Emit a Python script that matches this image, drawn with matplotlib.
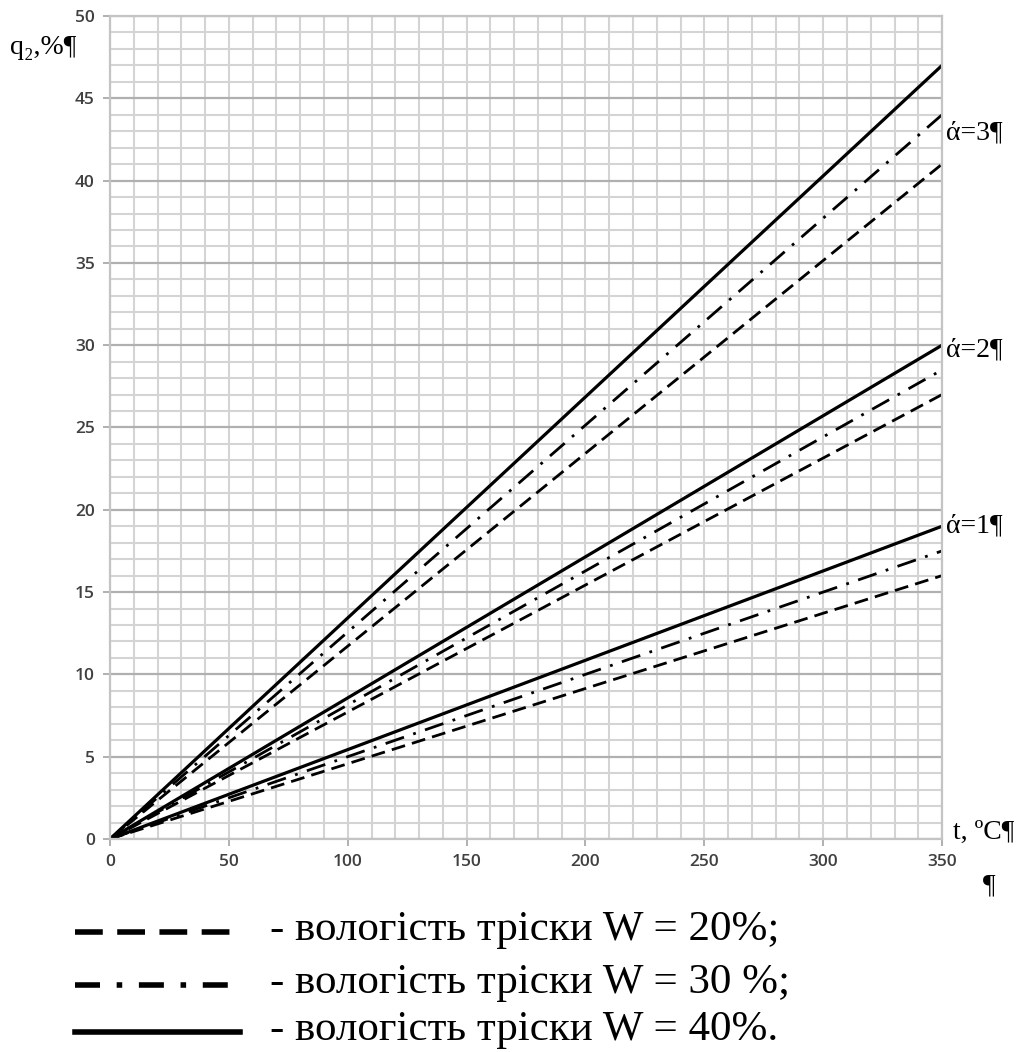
import matplotlib
matplotlib.use("Agg")
import matplotlib.pyplot as plt
from matplotlib.lines import Line2D
from matplotlib.ticker import MultipleLocator

# temperature range of the lines, °C
t = [0, 350]

# q2, % at t = 0 and t = 350 for each excess-air ratio and moisture content
q_a1_w20 = [0, 16.0]
q_a1_w30 = [0, 17.5]
q_a1_w40 = [0, 19.0]
q_a2_w20 = [0, 27.0]
q_a2_w30 = [0, 28.5]
q_a2_w40 = [0, 30.0]
q_a3_w20 = [0, 41.0]
q_a3_w30 = [0, 44.0]
q_a3_w40 = [0, 47.0]

alpha_labels = ["ά=1¶", "ά=2¶", "ά=3¶"]
alpha_label_y = [19.0, 29.7, 42.9]
legend_labels = ["- вологість тріски W = 20%;",
                 "- вологість тріски W = 30 %;",
                 "- вологість тріски W = 40%."]

serif = ["Liberation Serif", "DejaVu Serif"]
tick_font = "Open Sans"

dash = (0, (5, 2.6))
dashdot = (0, (7, 3.5, 1, 3.5))

fig = plt.figure(figsize=(10.29, 10.52), dpi=100)
ax = fig.add_axes([0.1069, 0.2025, 0.8086, 0.7823])

ax.set_xlim(0, 350)
ax.set_ylim(0, 50)
ax.xaxis.set_major_locator(MultipleLocator(50))
ax.xaxis.set_minor_locator(MultipleLocator(10))
ax.yaxis.set_major_locator(MultipleLocator(5))
ax.yaxis.set_minor_locator(MultipleLocator(1))
ax.grid(True, which="minor", color="#d4d4d4", linewidth=1.5)
ax.grid(True, which="major", axis="x", color="#d4d4d4", linewidth=1.5)
ax.grid(True, which="major", axis="y", color="#b0b0b0", linewidth=1.6)
ax.set_axisbelow(True)
for s in ax.spines.values():
    s.set_color("#c4c4c4")
    s.set_linewidth(1.6)

ax.tick_params(which="major", length=5, color="#b0b0b0", width=1.4,
               labelsize=12.5, labelcolor="#404040", pad=6)
ax.tick_params(which="minor", length=0)
for lab in ax.get_xticklabels() + ax.get_yticklabels():
    lab.set_fontfamily(tick_font)
    lab.set_fontweight("semibold")

groups = [(q_a1_w20, q_a1_w30, q_a1_w40),
          (q_a2_w20, q_a2_w30, q_a2_w40),
          (q_a3_w20, q_a3_w30, q_a3_w40)]
for w20, w30, w40 in groups:
    ax.plot(t, w20, color="black", linewidth=2.0, linestyle=dash)
    ax.plot(t, w30, color="black", linewidth=2.0, linestyle=dashdot)
    ax.plot(t, w40, color="black", linewidth=2.3, linestyle="-")

# curve labels to the right of the plot
for lab, yv in zip(alpha_labels, alpha_label_y):
    ax.annotate(lab, xy=(350, yv), xytext=(3, 0), textcoords="offset points",
                fontsize=20, family=serif, va="center", ha="left",
                annotation_clip=False)

fig.text(0.010, 0.955, "q₂,%¶", fontsize=20, family=serif, ha="left", va="center")
fig.text(0.926, 0.209, "t, ºC¶", fontsize=20, family=serif, ha="left", va="center")
fig.text(0.955, 0.158, "¶", fontsize=20, family=serif, ha="left", va="center")

# legend drawn below the chart
styles = [(dash, 4.0), ((0, (4.5, 3, 1, 3)), 4.0), ("-", 4.0)]
rows = [0.114, 0.064, 0.019]
for (ls, lw), y, lab in zip(styles, rows, legend_labels):
    fig.add_artist(Line2D([0.073, 0.233], [y, y], transform=fig.transFigure,
                          color="black", linewidth=lw, linestyle=ls))
    fig.text(0.262, y + 0.002, lab, fontsize=31, family=serif,
             ha="left", va="center")

fig.savefig("out.png", dpi=100)
